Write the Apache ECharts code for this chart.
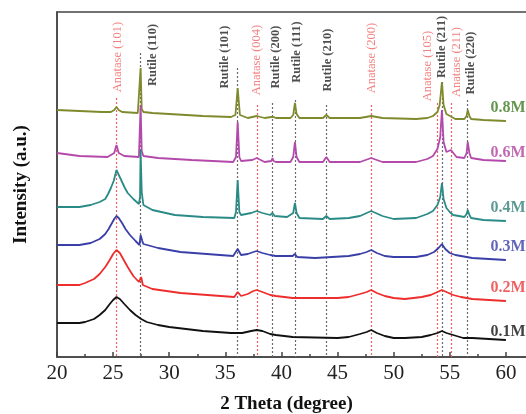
<!DOCTYPE html>
<html>
<head>
<meta charset="utf-8">
<script src="https://cdn.jsdelivr.net/npm/echarts@6/dist/echarts.min.js"></script>
<style>
  html, body { margin: 0; padding: 0; background: #fff; }
  #xrd { width: 526px; height: 414px; }
</style>
</head>
<body>
<div id="xrd"></div>
<script>
// XRD patterns, TiO2 at different concentrations (stacked, offset intensities)
var ticksX = [20, 25, 30, 35, 40, 45, 50, 55, 60];

var s08 = [[20,247],[22,246],[24,245],[24.8,245],[25.1,247],[25.3,250],[25.5,247],[25.8,245],[27.2,244],[27.35,246],[27.45,289],[27.55,248],[27.7,245],[28.5,244],[30,243],[33,241],[35.5,240],[35.9,242],[36.1,269],[36.3,242],[37,239],[37.8,241],[38.5,239],[39.1,240],[39.2,242],[39.3,240],[39.5,239],[40.8,239],[41.05,242],[41.2,254],[41.35,243],[41.6,239],[43.7,239],[44,242],[44.3,239],[47,239],[48,241],[49,239],[52,238],[53,239],[53.5,241],[53.9,245],[54.1,252],[54.3,275],[54.45,252],[54.7,243],[55.5,238],[56.3,238],[56.5,241],[56.6,247],[56.75,241],[56.9,238],[58,237],[60,236]];
var s06 = [[20,204],[22,201],[24.5,200],[25.1,204],[25.3,212],[25.5,204],[26,201],[27.3,200],[27.45,252],[27.55,206],[27.7,201],[29,199],[32,197],[35.7,195],[35.95,200],[36.1,235],[36.25,200],[36.4,196],[37.4,197],[37.8,199],[38.5,195],[39.1,196],[39.2,199],[39.3,196],[39.5,195],[40.8,195],[41.05,200],[41.2,215],[41.35,200],[41.6,195],[43.7,195],[44,200],[44.3,195],[47,195],[48,199],[49,195],[52,195],[53,198],[53.5,201],[53.9,208],[54.15,220],[54.3,247],[54.45,215],[54.7,205],[55.1,207],[55.6,200],[56.3,199],[56.5,204],[56.6,215],[56.75,204],[56.9,199],[58,197],[60,196]];
var s04 = [[20,150],[22,150],[23,152],[23.8,155],[24.3,158],[24.55,163],[24.8,169],[25.05,176],[25.3,187],[25.55,181],[25.8,175],[26.05,169],[26.3,164],[26.8,158],[27.3,153],[27.4,160],[27.45,207],[27.55,165],[27.7,152],[28.5,147],[30.5,142],[33,140],[35.8,139],[35.95,145],[36.1,177],[36.25,145],[36.4,142],[37.3,144],[37.8,146],[38.3,144],[39,142],[39.2,144],[39.4,141],[40.5,140],[41.05,144],[41.2,154],[41.35,144],[41.6,139],[43.7,138],[44,141],[44.3,138],[46,139],[47,141],[47.6,144],[48,146],[48.4,144],[49,141],[50,138],[52,139],[53,143],[53.5,146],[53.9,152],[54.15,160],[54.3,174],[54.45,158],[54.7,149],[55,145],[55.3,142],[56.3,140],[56.5,143],[56.6,147],[56.75,142],[56.9,139],[58,137],[60,136]];
var s03 = [[20,112],[22,112],[23,114],[23.8,118],[24.3,123],[24.6,128],[24.9,134],[25.1,138],[25.3,141],[25.5,139],[25.8,134],[26.1,128],[26.5,122],[27,116],[27.35,112],[27.45,122],[27.5,124],[27.6,116],[27.7,113],[29,109],[31,105],[35.7,101],[36.1,108],[36.4,102],[37,103],[37.5,105],[37.8,106],[38.3,104],[39,102],[39.5,101],[41,101],[41.2,103],[41.4,100],[43,99],[46,101],[47,103],[47.6,105],[48,107],[48.5,104],[49.2,101],[50,100],[52,100],[53,102],[53.6,105],[54,109],[54.3,113],[54.6,108],[55,104],[55.5,102],[57,99],[60,97]];
var s02 = [[20,72],[22,72],[22.5,74],[23.3,78],[23.8,83],[24.3,90],[24.7,97],[25,103],[25.3,107],[25.6,104],[25.9,98],[26.3,90],[26.8,81],[27.3,75],[27.5,80],[27.65,72],[28.5,68],[31,64],[35.8,60],[36.1,65],[36.4,61],[37,63],[37.5,66],[37.8,67],[38.3,65],[39,62],[39.5,61],[41,59],[45,59],[46,60],[47,63],[47.6,65],[48,67],[48.5,64],[49.2,61],[50,59],[51,58],[52.5,60],[53.3,62],[53.9,65],[54.3,67],[54.7,65],[55.3,62],[56,60],[57,58],[60,56]];
var s01 = [[20,34],[22,34],[22.5,35],[23.3,38],[23.8,42],[24.3,47],[24.7,53],[25,57],[25.3,60],[25.6,58],[26,53],[26.5,47],[27,42],[27.5,38],[28,35],[29,32],[30,30],[33,26],[35.5,24],[36.5,24],[37.3,26],[37.8,27],[38.3,26],[39,23],[39.5,22],[41,20],[45,19],[46,20],[47,23],[47.6,25],[48,27],[48.5,24],[49.2,21],[50,19],[51,19],[52.5,20],[53.3,22],[53.9,24],[54.3,26],[54.7,24],[55.3,22],[56.2,19],[57,19],[60,17]];

var seriesNames = ['0.8M', '0.6M', '0.4M', '0.3M', '0.2M', '0.1M'];
var seriesData = [s08, s06, s04, s03, s02, s01];
var lineColors = ['#7f8a2c', '#b34aab', '#2a8b86', '#3a3fa8', '#ee2d2d', '#111111'];
var nameColors = ['#3d7a22', '#b0449f', '#357f7a', '#3a3fa8', '#ec3a3a', '#111111'];
var nameAt = [[60.2, 249], [60.2, 204], [60.2, 149], [60.2, 110], [60.2, 69], [60.2, 25]];

// reference reflections
var peakNames = ['Anatase (101)', 'Rutile (110)', 'Rutile (101)', 'Anatase (004)', 'Rutile (200)', 'Rutile (111)', 'Rutile (210)', 'Anatase (200)', 'Anatase (105)', 'Rutile (211)', 'Anatase (211)', 'Rutile (220)'];
var peakPos = [25.3, 27.45, 36.1, 37.8, 39.2, 41.2, 44.0, 48.0, 53.9, 54.3, 55.1, 56.6];
var peakTop = [259, 304, 289, 252, 254, 257, 252, 252, 254, 275, 254, 257];
var labelAt = [[25.43, 300], [28.55, 302], [34.97, 300], [37.82, 297], [39.5, 300], [41.38, 305], [44.14, 297], [48.06, 299], [53.05, 291], [54.3, 310], [55.63, 295], [56.88, 294]];

var FONT = '"Liberation Serif", "DejaVu Serif", serif';
var anaColor = '#f06262';
var rutColor = '#222';

var myChart = echarts.init(document.getElementById('xrd'));

var series = [];
seriesData.forEach(function (d, i) {
    series.push({
        name: seriesNames[i],
        type: 'line',
        data: d,
        showSymbol: false,
        z: 3,
        lineStyle: { color: lineColors[i], width: 1.8 },
        silent: true
    });
});

// dashed reference lines + labels
var markData = peakPos.map(function (p, i) {
    var c = peakNames[i].indexOf('Anatase') === 0 ? anaColor : '#6a6a6a';
    return [{ coord: [p, peakTop[i]], lineStyle: { color: c } }, { coord: [p, 0] }];
});

var textData = [];
peakNames.forEach(function (n, i) {
    var isA = n.indexOf('Anatase') === 0;
    textData.push({
        value: labelAt[i],
        label: { formatter: n, color: isA ? anaColor : rutColor, fontWeight: isA ? 'normal' : 'bold', rotate: 90, fontSize: 12.5 }
    });
});
seriesNames.forEach(function (n, i) {
    textData.push({
        value: nameAt[i],
        label: { formatter: n, color: nameColors[i], fontWeight: 'bold', fontSize: 16 }
    });
});

series.push({
    type: 'scatter',
    data: textData,
    symbolSize: 0,
    silent: true,
    z: 5,
    label: { show: true, position: 'inside', fontFamily: FONT },
    markLine: {
        silent: true,
        symbol: 'none',
        z: 1,
        label: { show: false },
        lineStyle: { type: [2, 2], width: 1.2 },
        data: markData
    }
});

var option = {
    backgroundColor: '#fff',
    animation: false,
    grid: {
        left: 57,
        top: 12,
        bottom: 57,
        right: -36,
        outerBoundsMode: 'none',
        show: true,
        borderColor: '#444',
        borderWidth: 1.5
    },
    xAxis: {
        type: 'value',
        min: 20,
        max: 65,
        interval: 5,
        name: '2 Theta (degree)',
        nameLocation: 'middle',
        nameGap: 38,
        nameTextStyle: { fontFamily: FONT, fontWeight: 'bold', fontSize: 19, color: '#111', padding: [0, 0, 0, -46] },
        axisLine: { lineStyle: { color: '#444', width: 1.5 } },
        axisTick: { inside: true, length: 5, lineStyle: { color: '#444', width: 1.5 } },
        minorTick: { show: true, splitNumber: 2, length: 3, lineStyle: { color: '#444', width: 1.5 } },
        axisLabel: {
            fontFamily: FONT, fontSize: 21, color: '#222', margin: 6,
            formatter: function (v) { return ticksX.indexOf(v) >= 0 ? String(v) : ''; }
        },
        splitLine: { show: false }
    },
    yAxis: {
        type: 'value',
        min: 0,
        max: 345,
        name: 'Intensity (a.u.)',
        nameLocation: 'middle',
        nameGap: 26,
        nameTextStyle: { fontFamily: FONT, fontWeight: 'bold', fontSize: 19, color: '#111' },
        axisLine: { show: true, lineStyle: { color: '#444', width: 1.5 } },
        axisTick: { show: false },
        axisLabel: { show: false },
        splitLine: { show: false }
    },
    series: series
};

myChart.setOption(option);
</script>
</body>
</html>
